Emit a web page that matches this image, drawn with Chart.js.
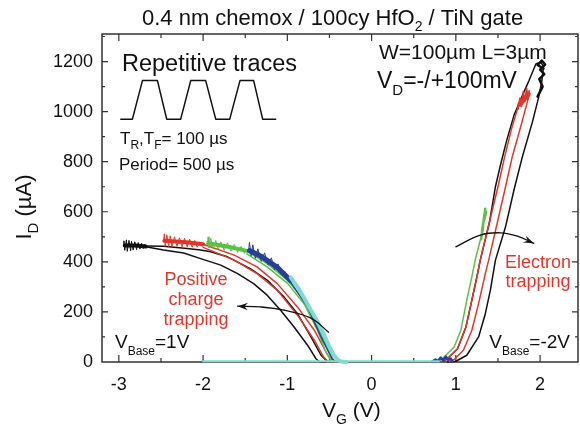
<!DOCTYPE html>
<html>
<head>
<meta charset="utf-8">
<script src="https://cdn.jsdelivr.net/npm/chart.js@4"></script>
<style>
  body { margin: 0; background: #fff; }
  canvas { display: block; }
</style>
</head>
<body>
<canvas id="c" width="580" height="427"></canvas>
<script>
// axis ticks
const xTickValues = [-3, -2, -1, 0, 1, 2];
const yTickValues = [0, 200, 400, 600, 800, 1000, 1200];

// hole branch (V_Base = 1V), [V_G, I_D]
const blackHoleBand = [[-2.93,465],[-2.80,465],[-2.68,461]];
const blackHoleNoise = [[-2.95,462],[-2.94,484],[-2.93,446],[-2.91,488],[-2.90,442],[-2.88,486],[-2.86,444],[-2.85,482],[-2.83,447],[-2.81,480],[-2.79,449],[-2.77,477],[-2.75,451],[-2.73,474],[-2.71,453],[-2.69,470],[-2.67,456]];
const blackHoleA = [[-2.68,460],[-2.47,447],[-2.23,435],[-2.03,413],[-1.79,387],[-1.59,353],[-1.40,313],[-1.24,267],[-1.08,207],[-0.92,140],[-0.76,67],[-0.66,13],[-0.62,2],[-0.55,0]];
const blackHoleB = [[-2.68,463],[-2.47,462],[-2.19,453],[-2.03,447],[-1.91,440],[-1.71,420],[-1.44,373],[-1.24,327],[-1.04,260],[-0.88,193],[-0.72,100],[-0.60,27],[-0.53,3],[-0.45,0]];
const redHoleBand = [[-2.46,484],[-2.20,478],[-2.00,470]];
const redHoleNoise = [[-2.47,482],[-2.46,512],[-2.45,462],[-2.43,508],[-2.41,460],[-2.39,504],[-2.37,462],[-2.34,500],[-2.31,462],[-2.28,496],[-2.25,460],[-2.22,494],[-2.19,460],[-2.16,490],[-2.13,458],[-2.10,486],[-2.07,458],[-2.04,480],[-2.01,462]];
const redHoleA = [[-2.0,458],[-1.63,407],[-1.36,353],[-1.12,287],[-0.88,187],[-0.68,87],[-0.57,20],[-0.52,3],[-0.45,0]];
const redHoleB = [[-2.0,470],[-1.63,427],[-1.36,380],[-1.12,313],[-0.88,220],[-0.68,127],[-0.53,33],[-0.47,4],[-0.40,0]];
const greenHoleBand = [[-1.94,474],[-1.70,460],[-1.48,444]];
const greenHoleNoise = [[-1.95,470],[-1.94,500],[-1.93,456],[-1.91,494],[-1.88,452],[-1.85,486],[-1.82,450],[-1.79,480],[-1.75,446],[-1.71,476],[-1.67,442],[-1.63,470],[-1.59,438],[-1.55,462],[-1.51,434],[-1.48,450]];
const greenHoleA = [[-1.48,442],[-1.24,393],[-1.00,327],[-0.80,247],[-0.64,140],[-0.53,60],[-0.45,7],[-0.40,0]];
const greenHoleB = [[-1.48,432],[-1.24,380],[-1.00,315],[-0.80,232],[-0.64,125],[-0.55,45],[-0.48,5],[-0.42,0]];
const blueHoleBand = [[-1.45,445],[-1.30,420],[-1.12,378],[-0.96,325]];
const blueHoleNoise = [[-1.46,440],[-1.45,478],[-1.43,424],[-1.41,468],[-1.38,414],[-1.35,452],[-1.31,402],[-1.27,436],[-1.23,388],[-1.19,416],[-1.15,368],[-1.11,392],[-1.07,348],[-1.03,362],[-0.99,322]];
const blueHole = [[-0.96,318],[-0.76,220],[-0.60,100],[-0.47,13],[-0.42,0]];
const cyanHole = [[-0.96,338],[-0.92,318],[-0.88,300],[-0.80,255],[-0.72,207],[-0.64,160],[-0.57,113],[-0.50,60],[-0.45,28],[-0.40,8],[-0.36,2],[-0.30,0]];
const cyanFlat = [[-2.0,3],[0.80,3]];

// electron branch (V_Base = -2V)
const blueElecNoise = [[0.72,3],[0.76,10],[0.79,4],[0.82,18],[0.85,6],[0.88,22],[0.91,8],[0.94,14],[0.96,2]];
const greenElec = [[0.80,2],[0.86,20],[0.98,60],[1.06,127],[1.13,247],[1.19,340],[1.23,407],[1.29,487],[1.33,540]];
const greenElecNoise = [[1.30,490],[1.33,565],[1.31,520],[1.35,612],[1.33,560],[1.36,598],[1.34,575]];
const redElecL = [[0.85,3],[0.90,13],[1.02,53],[1.12,140],[1.19,247],[1.25,340],[1.29,407],[1.40,560],[1.50,700],[1.58,820],[1.66,930],[1.74,1020],[1.80,1060]];
const redElecR = [[0.92,2],[0.98,10],[1.09,47],[1.19,127],[1.27,233],[1.35,353],[1.39,407],[1.49,553],[1.59,700],[1.67,820],[1.77,940],[1.85,1040]];
const redElecBand = [[1.76,1030],[1.86,1070]];
const redElecNoise = [[1.74,1010],[1.76,1054],[1.78,1020],[1.80,1080],[1.82,1042],[1.84,1094],[1.86,1050],[1.87,1084],[1.85,1040]];
const blackElecR = [[0.90,0],[1.00,3],[1.13,27],[1.27,100],[1.35,193],[1.41,287],[1.47,407],[1.59,540],[1.69,687],[1.79,820],[1.91,960],[1.98,1053],[2.02,1120],[2.04,1180]];
const blackElecL = [[2.04,1180],[2.01,1198],[1.95,1190],[1.87,1125],[1.81,1080],[1.69,985],[1.60,880],[1.53,787],[1.47,700],[1.40,560],[1.29,407],[1.25,340],[1.19,247],[1.12,140],[1.02,53],[0.90,13],[0.85,3]];
const blackElecNoise = [[1.97,1060],[2.03,1100],[1.99,1130],[2.05,1150],[2.00,1168],[2.06,1188],[2.02,1204],[1.97,1186],[2.04,1172]];

// inset pulse sketch and arrows, in plot units
const pulseWave = [[-2.977,970],[-2.839,970],[-2.72,1124],[-2.542,1124],[-2.432,970],[-2.266,970],[-2.147,1124],[-1.969,1124],[-1.85,970],[-1.684,970],[-1.562,1124],[-1.40,1124],[-1.293,970],[-1.139,970]];
const holeArrow = [[-0.51,119],[-0.72,175],[-1.04,207],[-1.32,220],[-1.59,223]];
const elecArrow = [[1.00,460],[1.29,507],[1.53,516],[1.73,503],[1.925,474]];

const FONT = '"Liberation Sans", Arial, Helvetica, sans-serif';
const BLACK = '#111111', RED = '#e2362b', GREEN = '#5bbf48', BLUE = '#263f98', CYAN = '#7fdad3';

function pts(arr) { return arr.map(p => ({ x: p[0], y: p[1] })); }
function trace(arr, color, width, order, extra) {
  return Object.assign({
    data: pts(arr), borderColor: color, backgroundColor: color, borderWidth: width,
    showLine: true, pointRadius: 0, fill: false, order: order,
    borderJoinStyle: 'round', borderCapStyle: 'round',
    clip: { left: 0, top: 0, right: 0, bottom: 4 }
  }, extra || {});
}

const datasets = [
  trace(blackHoleBand, BLACK, 4, 6), trace(blackHoleNoise, BLACK, 1, 6),
  trace(blackHoleA, BLACK, 1.5, 6), trace(blackHoleB, BLACK, 1.5, 6),
  trace(redHoleBand, RED, 4, 5), trace(redHoleNoise, RED, 1, 5),
  trace(redHoleA, RED, 1.5, 5), trace(redHoleB, RED, 1.5, 5),
  trace(greenHoleBand, GREEN, 4, 4), trace(greenHoleNoise, GREEN, 1, 4),
  trace(greenHoleA, GREEN, 1.5, 4), trace(greenHoleB, GREEN, 1.5, 4),
  trace(blueHoleBand, BLUE, 5, 3), trace(blueHoleNoise, BLUE, 1, 3), trace(blueHole, BLUE, 1.5, 3),
  trace(cyanHole, CYAN, 4, 2), trace(cyanFlat, CYAN, 2, 2),
  trace(blackElecR, BLACK, 1.5, 6), trace(blackElecL, BLACK, 1.5, 6), trace(blackElecNoise, BLACK, 2.5, 6),
  trace(redElecL, RED, 1.5, 5), trace(redElecR, RED, 1.5, 5),
  trace(redElecBand, RED, 5, 5), trace(redElecNoise, RED, 1.5, 5),
  trace(greenElec, GREEN, 1.5, 4), trace(greenElecNoise, GREEN, 2.5, 4),
  trace(blueElecNoise, BLUE, 2.5, 3),
  trace(pulseWave, BLACK, 1.5, 1),
  trace(holeArrow, BLACK, 1.3, 1, { tension: 0.4 }),
  trace(elecArrow, BLACK, 1.3, 1, { tension: 0.4 })
];

// text with subscripts: parts = [text, size, dy]
function drawParts(ctx, x, y, parts, align) {
  let w = 0;
  parts.forEach(p => { ctx.font = p[1] + 'px ' + FONT; w += ctx.measureText(p[0]).width; });
  let cx = align === 'right' ? x - w : align === 'center' ? x - w / 2 : x;
  parts.forEach(p => {
    ctx.font = p[1] + 'px ' + FONT;
    ctx.fillText(p[0], cx, y + (p[2] || 0));
    cx += ctx.measureText(p[0]).width;
  });
}

function arrowHead(ctx, from, to, len) {
  const a = Math.atan2(to.y - from.y, to.x - from.x);
  ctx.beginPath();
  ctx.moveTo(to.x, to.y);
  ctx.lineTo(to.x - len * Math.cos(a - 0.35), to.y - len * Math.sin(a - 0.35));
  ctx.lineTo(to.x - len * 0.6 * Math.cos(a), to.y - len * 0.6 * Math.sin(a));
  ctx.lineTo(to.x - len * Math.cos(a + 0.35), to.y - len * Math.sin(a + 0.35));
  ctx.closePath();
  ctx.fill();
}

const framePlugin = {
  id: 'frame',
  beforeDatasetsDraw(chart) {
    const { ctx, chartArea: a, scales: { x, y } } = chart;
    ctx.save();
    ctx.strokeStyle = '#333';
    ctx.lineWidth = 1.5;
    ctx.strokeRect(a.left, a.top, a.right - a.left, a.bottom - a.top);
    ctx.lineWidth = 1.2;
    ctx.beginPath();
    for (let v = -3; v <= 2.45; v += 0.5) {
      const px = x.getPixelForValue(v);
      const len = Math.abs(v - Math.round(v)) < 1e-6 ? 7 : 4;
      ctx.moveTo(px, a.bottom); ctx.lineTo(px, a.bottom - len);
      ctx.moveTo(px, a.top); ctx.lineTo(px, a.top + len);
    }
    for (let v = 100; v <= 1300; v += 100) {
      const py = y.getPixelForValue(v);
      const len = v % 200 === 0 ? 6 : 3;
      ctx.moveTo(a.left, py); ctx.lineTo(a.left + len, py);
      ctx.moveTo(a.right, py); ctx.lineTo(a.right - len, py);
    }
    ctx.stroke();
    ctx.restore();
  },
  afterDatasetsDraw(chart) {
    const { ctx, scales: { x, y } } = chart;
    const P = p => ({ x: x.getPixelForValue(p[0]), y: y.getPixelForValue(p[1]) });
    ctx.save();
    ctx.fillStyle = BLACK;
    arrowHead(ctx, P(holeArrow[holeArrow.length - 2]), P(holeArrow[holeArrow.length - 1]), 11);
    arrowHead(ctx, P(elecArrow[elecArrow.length - 2]), P(elecArrow[elecArrow.length - 1]), 11);

    ctx.textBaseline = 'alphabetic';
    ctx.fillStyle = '#111';
    drawParts(ctx, 142, 25, [['0.4 nm chemox / 100cy HfO', 22], ['2', 14, 6], [' / TiN gate', 22]]);
    drawParts(ctx, 122, 71, [['Repetitive traces', 23.5]]);
    drawParts(ctx, 120, 144, [['T', 17], ['R', 12, 5], [',T', 17], ['F', 12, 5], ['= 100 \u00b5s', 17]]);
    drawParts(ctx, 119, 170, [['Period= 500 \u00b5s', 17]]);
    drawParts(ctx, 379, 59, [['W=100\u00b5m L=3\u00b5m', 21]]);
    drawParts(ctx, 377, 88, [['V', 23], ['D', 15, 7], ['=-/+100mV', 23]]);
    drawParts(ctx, 115, 348, [['V', 19], ['Base', 12, 7], ['=1V', 19]]);
    drawParts(ctx, 570, 348, [['V', 19], ['Base', 12, 7], ['=-2V', 19]], 'right');

    ctx.fillStyle = RED;
    drawParts(ctx, 196, 285, [['Positive', 18]], 'center');
    drawParts(ctx, 196, 305, [['charge', 18]], 'center');
    drawParts(ctx, 196, 325, [['trapping', 18]], 'center');
    drawParts(ctx, 538, 268, [['Electron', 18]], 'center');
    drawParts(ctx, 538, 287, [['trapping', 18]], 'center');

    ctx.fillStyle = '#111';
    drawParts(ctx, 322, 417, [['V', 21], ['G', 14, 7], [' (V)', 21]]);
    ctx.translate(31, 207);
    ctx.rotate(-Math.PI / 2);
    drawParts(ctx, 0, 0, [['I', 22], ['D', 15, 7], [' (\u00b5A)', 22]], 'center');
    ctx.restore();
  }
};

new Chart(document.getElementById('c'), {
  type: 'scatter',
  data: { datasets: datasets },
  options: {
    responsive: false,
    animation: false,
    devicePixelRatio: 1,
    layout: { padding: { top: 34, right: 2, left: 0, bottom: 0 } },
    plugins: { legend: { display: false }, tooltip: { enabled: false }, title: { display: false } },
    scales: {
      x: {
        type: 'linear', min: -3.2, max: 2.45,
        grid: { display: false, drawTicks: false }, border: { display: false },
        ticks: { font: { family: FONT, size: 18 }, color: '#111', padding: 12, maxRotation: 0, callback: v => String(v) },
        afterBuildTicks: s => { s.ticks = xTickValues.map(v => ({ value: v })); },
        afterFit: s => { s.height = 65; }
      },
      y: {
        type: 'linear', min: 0, max: 1310,
        grid: { display: false, drawTicks: false }, border: { display: false },
        ticks: { font: { family: FONT, size: 18 }, color: '#111', padding: 9, callback: v => String(v) },
        afterBuildTicks: s => { s.ticks = yTickValues.map(v => ({ value: v })); },
        afterFit: s => { s.width = 102; }
      }
    }
  },
  plugins: [framePlugin]
});
</script>
</body>
</html>
